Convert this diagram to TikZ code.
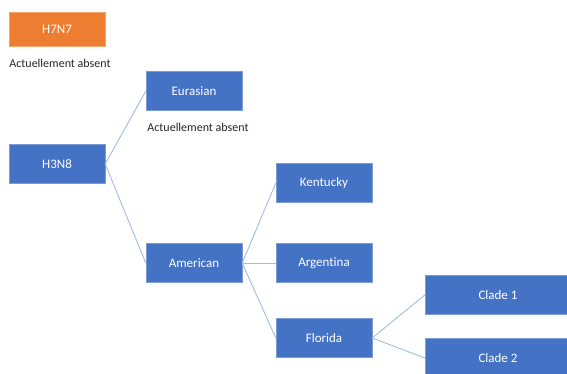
\documentclass[tikz,border=0pt]{standalone}
\usepackage{fontspec}
\setmainfont{Carlito}[Ligatures=NoCommon]
\definecolor{boxblue}{HTML}{4472C4}
\definecolor{boxorange}{HTML}{ED7D31}
\definecolor{linkblue}{HTML}{A3BBE3}
\begin{document}
\begin{tikzpicture}[x=1pt, y=-1pt,
  every node/.style={font=\fontsize{13}{15}\selectfont},
  strain/.style={fill=boxblue, draw=boxblue!70!white, text=white, minimum width=96pt, minimum height=39pt, inner sep=0pt},
  note/.style={font=\fontsize{12}{14}\selectfont, text=black!85},
  link/.style={draw=linkblue, line width=0.9pt}]
\clip (0,0) rectangle (567,374);
\fill[white] (0,0) rectangle (567,374);
\node[strain, fill=boxorange, draw=boxorange!70!white, minimum height=34pt] (h7n7) at (57,29) {H7N7};
\node[note] (absent1) at (60,63) {Actuellement absent};
\node[strain] (h3n8) at (57,164) {H3N8};
\node[strain] (eurasian) at (194,91) {Eurasian};
\node[note] (absent2) at (198,127) {Actuellement absent};
\node[strain] (american) at (194,263) {American};
\node[strain] (kentucky) at (324,183) {Kentucky};
\node[strain] (argentina) at (324,263) {Argentina};
\node[strain] (florida) at (324,338) {Florida};
\node[strain, minimum width=146pt] (clade1) at (498,295) {Clade 1};
\node[strain, minimum width=146pt] (clade2) at (498,358) {Clade 2};
\draw[link] (h3n8.east) -- (eurasian.west);
\draw[link] (h3n8.east) -- (american.west);
\foreach \c in {kentucky,argentina,florida} \draw[link] (american.east) -- (\c.west);
\foreach \c in {clade1,clade2} \draw[link] (florida.east) -- (\c.west);
\end{tikzpicture}
\end{document}
